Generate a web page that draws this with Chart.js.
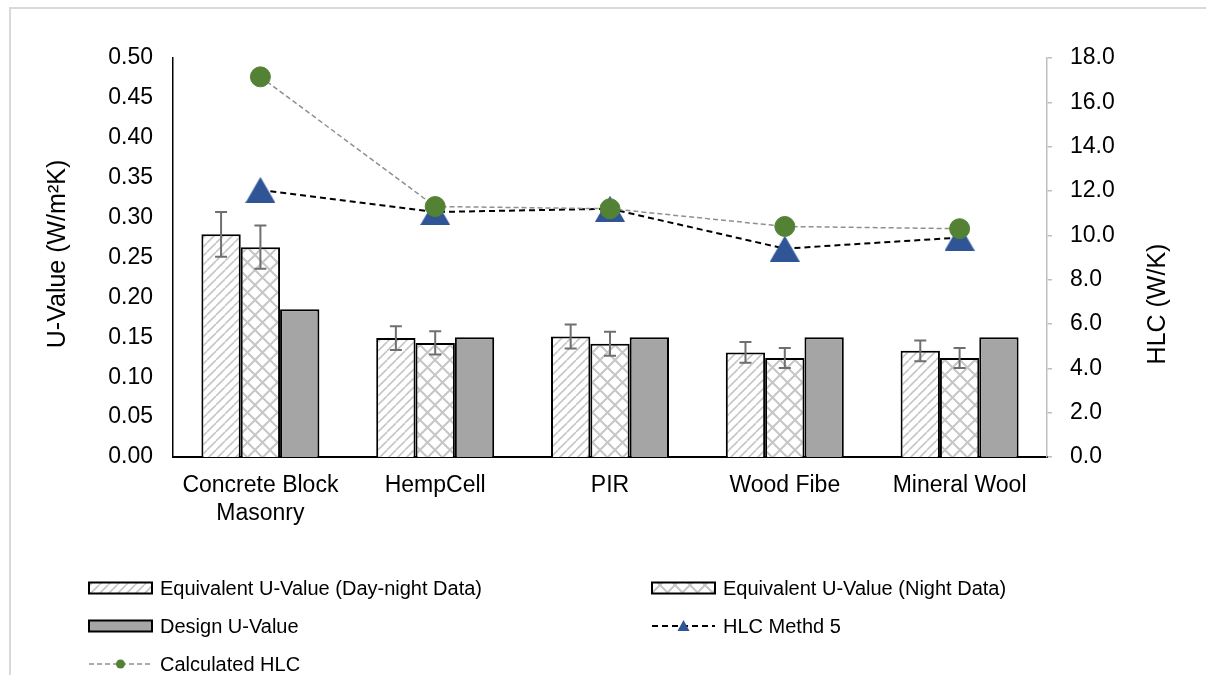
<!DOCTYPE html>
<html>
<head>
<meta charset="utf-8">
<title>U-Value and HLC</title>
<script src="https://cdn.jsdelivr.net/npm/chart.js@4.4.1/dist/chart.umd.min.js"></script>
<style>
  html, body { margin: 0; padding: 0; background: #fff; }
  canvas { display: block; }
</style>
</head>
<body>
<canvas id="chart" width="1206" height="675"></canvas>
<script>
// categories and values
const categories = [['Concrete Block', 'Masonry'], 'HempCell', 'PIR', 'Wood Fibe', 'Mineral Wool']
const uDayNight = [0.279, 0.149, 0.151, 0.131, 0.133]
const uDayNightErr = [0.028, 0.015, 0.015, 0.013, 0.013]
const uNight = [0.263, 0.143, 0.142, 0.124, 0.124]
const uNightErr = [0.027, 0.0145, 0.015, 0.0125, 0.0125]
const uDesign = [0.185, 0.150, 0.150, 0.150, 0.150]
const hlcMethod5 = [12.05, 11.05, 11.2, 9.4, 9.9]
const hlcCalculated = [17.15, 11.3, 11.2, 10.4, 10.3]
const uTicks = { min: 0, max: 0.5, step: 0.05 }
const hlcTicks = { min: 0, max: 18, step: 2 }

const FONT = "'Liberation Sans', Arial, sans-serif"
Chart.defaults.font.family = FONT
Chart.defaults.color = '#000'

// hatch fills like the Excel patterns
function makePattern(kind) {
  const s = kind === 'diag' ? 9 : 15
  const c = document.createElement('canvas')
  c.width = s
  c.height = s
  const g = c.getContext('2d')
  g.fillStyle = '#fff'
  g.fillRect(0, 0, s, s)
  g.strokeStyle = '#c6c6c6'
  g.lineWidth = kind === 'diag' ? 1.6 : 2
  g.beginPath()
  for (let k = -1; k <= 1; k++) {
    g.moveTo(k * s, s)
    g.lineTo(k * s + s, 0)
    if (kind === 'cross') {
      g.moveTo(k * s, 0)
      g.lineTo(k * s + s, s)
    }
  }
  g.stroke()
  return g.createPattern(c, 'repeat')
}

// triangle marker centred on its box, the way Excel draws it
function makeTriangle(w, h, color) {
  const c = document.createElement('canvas')
  c.width = w
  c.height = h
  const g = c.getContext('2d')
  g.fillStyle = color
  g.beginPath()
  g.moveTo(w / 2, 0)
  g.lineTo(w, h)
  g.lineTo(0, h)
  g.closePath()
  g.fill()
  return c
}

const diagFill = makePattern('diag')
const crossFill = makePattern('cross')
const triMarker = makeTriangle(30, 26, '#2f5597')

// error bars on the measured U-values
const errorBarPlugin = {
  id: 'errorBars',
  afterDatasetsDraw(chart) {
    const ctx = chart.ctx
    const y = chart.scales.y
    chart.data.datasets.forEach((ds, i) => {
      if (!ds.errors) return
      const meta = chart.getDatasetMeta(i)
      ctx.save()
      ctx.strokeStyle = '#6f6f6f'
      ctx.lineWidth = 2
      meta.data.forEach((bar, j) => {
        const v = ds.data[j]
        const e = ds.errors[j]
        const top = y.getPixelForValue(v + e)
        const bot = y.getPixelForValue(v - e)
        ctx.beginPath()
        ctx.moveTo(bar.x, top)
        ctx.lineTo(bar.x, bot)
        ctx.moveTo(bar.x - 6, top)
        ctx.lineTo(bar.x + 6, top)
        ctx.moveTo(bar.x - 6, bot)
        ctx.lineTo(bar.x + 6, bot)
        ctx.stroke()
      })
      ctx.restore()
    })
  }
}

// frame, axis titles and the two-column legend
const legendSlots = [
  { ds: 0, x: 89, y: 588 },
  { ds: 1, x: 652, y: 588 },
  { ds: 2, x: 89, y: 626 },
  { ds: 3, x: 652, y: 626 },
  { ds: 4, x: 89, y: 664 }
]

const decorPlugin = {
  id: 'decor',
  beforeDraw(chart) {
    const ctx = chart.ctx
    ctx.save()
    ctx.strokeStyle = '#d9d9d9'
    ctx.lineWidth = 2
    ctx.beginPath()
    ctx.moveTo(10, 675)
    ctx.lineTo(10, 8)
    ctx.lineTo(1206, 8)
    ctx.stroke()
    ctx.restore()
  },
  afterDraw(chart) {
    const ctx = chart.ctx
    ctx.save()
    ctx.fillStyle = '#000'
    ctx.font = '25px ' + FONT
    ctx.textAlign = 'center'
    ctx.textBaseline = 'middle'
    ctx.translate(58, 254)
    ctx.rotate(-Math.PI / 2)
    ctx.fillText('U-Value (W/m\u00b2K)', 0, 0)
    ctx.restore()

    ctx.save()
    ctx.fillStyle = '#000'
    ctx.font = '25px ' + FONT
    ctx.textAlign = 'center'
    ctx.textBaseline = 'middle'
    ctx.translate(1158, 304)
    ctx.rotate(-Math.PI / 2)
    ctx.fillText('HLC (W/K)', 0, 0)
    ctx.restore()

    legendSlots.forEach(slot => {
      const ds = chart.data.datasets[slot.ds]
      const x = slot.x
      const y = slot.y
      ctx.save()
      if (ds.type === 'bar') {
        ctx.fillStyle = ds.backgroundColor
        ctx.fillRect(x, y - 5.5, 63, 11)
        ctx.strokeStyle = '#000'
        ctx.lineWidth = 2
        ctx.strokeRect(x, y - 5.5, 63, 11)
      } else {
        ctx.strokeStyle = ds.borderColor
        ctx.lineWidth = ds.borderWidth
        ctx.setLineDash(ds.borderDash)
        ctx.beginPath()
        ctx.moveTo(x, y)
        ctx.lineTo(x + 63, y)
        ctx.stroke()
        ctx.setLineDash([])
        ctx.fillStyle = ds.pointBackgroundColor
        ctx.beginPath()
        const cx = x + 31.5
        if (ds.pointStyle === triMarker) {
          ctx.moveTo(cx, y - 6)
          ctx.lineTo(cx + 6, y + 5)
          ctx.lineTo(cx - 6, y + 5)
          ctx.closePath()
        } else {
          ctx.arc(cx, y, 4.5, 0, Math.PI * 2)
        }
        ctx.fill()
      }
      ctx.fillStyle = '#000'
      ctx.font = '20px ' + FONT
      ctx.textAlign = 'left'
      ctx.textBaseline = 'middle'
      ctx.fillText(ds.label, x + 71, y + 1)
      ctx.restore()
    })
  }
}

const ctx = document.getElementById('chart')
const myChart = new Chart(ctx, {
  data: {
    labels: categories,
    datasets: [
      {
        type: 'bar',
        label: 'Equivalent U-Value (Day-night Data)',
        data: uDayNight,
        errors: uDayNightErr,
        backgroundColor: diagFill,
        borderColor: '#000',
        borderWidth: 2,
        yAxisID: 'y',
        order: 3
      },
      {
        type: 'bar',
        label: 'Equivalent U-Value (Night Data)',
        data: uNight,
        errors: uNightErr,
        backgroundColor: crossFill,
        borderColor: '#000',
        borderWidth: 2,
        yAxisID: 'y',
        order: 3
      },
      {
        type: 'bar',
        label: 'Design U-Value',
        data: uDesign,
        backgroundColor: '#a5a5a5',
        borderColor: '#000',
        borderWidth: 2,
        yAxisID: 'y',
        order: 3
      },
      {
        type: 'line',
        label: 'HLC Methd 5',
        data: hlcMethod5,
        borderColor: '#000',
        borderWidth: 2,
        borderDash: [6, 4],
        pointStyle: triMarker,
        pointRadius: 15,
        pointBackgroundColor: '#2f5597',
        pointBorderColor: '#2f5597',
        fill: false,
        tension: 0,
        yAxisID: 'y1',
        order: 2
      },
      {
        type: 'line',
        label: 'Calculated HLC',
        data: hlcCalculated,
        borderColor: '#8f8f8f',
        borderWidth: 1.5,
        borderDash: [5, 3],
        pointStyle: 'circle',
        pointRadius: 10,
        pointBackgroundColor: '#548235',
        pointBorderColor: '#548235',
        pointBorderWidth: 1,
        fill: false,
        tension: 0,
        yAxisID: 'y1',
        order: 1
      }
    ]
  },
  options: {
    responsive: false,
    animation: false,
    devicePixelRatio: 1,
    layout: { padding: { top: 58, left: 0, right: 0, bottom: 0 } },
    plugins: {
      legend: { display: false },
      tooltip: { enabled: false }
    },
    datasets: {
      bar: { categoryPercentage: 0.675, barPercentage: 1.0 }
    },
    scales: {
      x: {
        grid: { display: false, drawTicks: false },
        border: { display: true, color: '#000', width: 2 },
        ticks: { font: { size: 23 }, padding: 15, maxRotation: 0, autoSkip: false },
        afterFit: s => { s.height = 218 }
      },
      y: {
        position: 'left',
        min: uTicks.min,
        max: uTicks.max,
        grid: { display: false, drawTicks: false },
        border: { display: true, color: '#000', width: 1.5 },
        ticks: {
          stepSize: uTicks.step,
          font: { size: 23 },
          padding: 20,
          callback: v => Number(v).toFixed(2)
        },
        afterFit: s => { s.width = 173 }
      },
      y1: {
        position: 'right',
        min: hlcTicks.min,
        max: hlcTicks.max,
        grid: { display: true, drawOnChartArea: false, drawTicks: true, tickLength: 5, color: '#bfbfbf', lineWidth: 1.5 },
        border: { display: true, color: '#bfbfbf', width: 1.5 },
        ticks: {
          stepSize: hlcTicks.step,
          font: { size: 23 },
          padding: 18,
          callback: v => Number(v).toFixed(1)
        },
        afterFit: s => { s.width = 159 }
      }
    }
  },
  plugins: [errorBarPlugin, decorPlugin]
})
</script>
</body>
</html>
